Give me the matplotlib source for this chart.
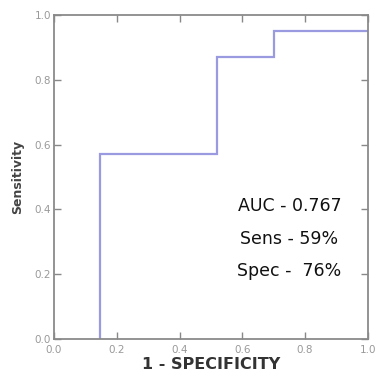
import matplotlib
matplotlib.use('Agg')
import matplotlib.pyplot as plt

# ROC curve points (1 - specificity, sensitivity)
fpr = [0.147, 0.147, 0.52, 0.52, 0.70, 0.70, 1.0]
tpr = [0.0, 0.57, 0.57, 0.87, 0.87, 0.95, 0.95]
ticks = [0.0, 0.2, 0.4, 0.6, 0.8, 1.0]
tick_labels = ['0.0', '0.2', '0.4', '0.6', '0.8', '1.0']
stats = ['AUC - 0.767', 'Sens - 59%', 'Spec -  76%']

fig = plt.figure(figsize=(3.75, 3.83), dpi=100)
ax = fig.add_axes([0.144, 0.115, 0.837, 0.846])

ax.plot(fpr, tpr, color='#9a9ae0', lw=1.6, solid_joinstyle='miter')

ax.set_xlim(0, 1)
ax.set_ylim(0, 1)
ax.set_xticks(ticks)
ax.set_yticks(ticks)
ax.set_xticklabels(tick_labels)
ax.set_yticklabels(tick_labels)
ax.tick_params(direction='in', top=True, right=True, length=5, width=1,
               color='#888888', labelcolor='#999999', labelsize=7.5, pad=2)
ax.tick_params(axis='x', pad=4)
for s in ax.spines.values():
    s.set_color('#8a8a8a')
    s.set_linewidth(1.3)

ax.set_xlabel('1 - SPECIFICITY', fontsize=11.5, fontweight='bold', color='#333333', labelpad=2)
ax.set_ylabel('Sensitivity', fontsize=9, fontweight='bold', color='#444444')
ax.yaxis.set_label_coords(-0.095, 0.5)

ys = [0.411, 0.31, 0.21]
for t, y in zip(stats, ys):
    ax.text(0.75, y, t, ha='center', va='center', fontsize=12.5,
            family=['Liberation Sans Narrow', 'DejaVu Sans'], color='#111111')

fig.savefig('out.png', dpi=100)
